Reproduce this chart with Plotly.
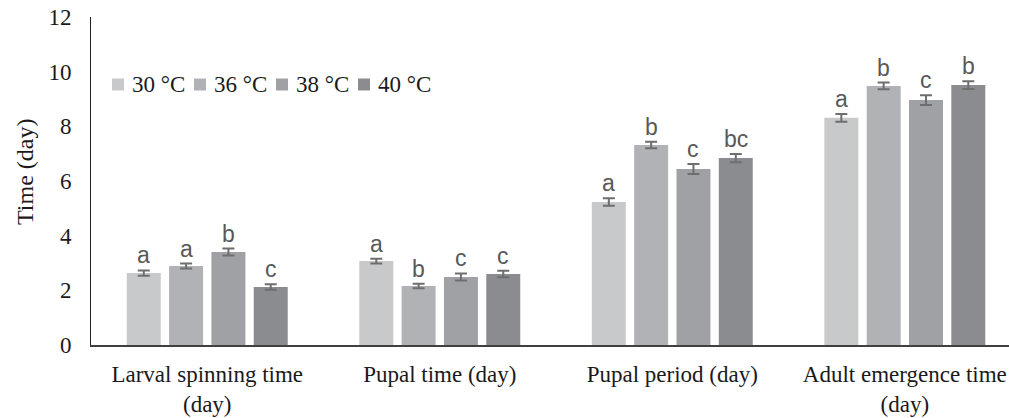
import plotly.graph_objects as go

categories = ["Larval spinning time<br>(day)", "Pupal time (day)", "Pupal period (day)",
              "Adult emergence time<br>(day)"]
series_names = ["30 °C", "36 °C", "38 °C", "40 °C"]
values = [
    [2.63, 3.07, 5.23, 8.31],
    [2.89, 2.16, 7.32, 9.48],
    [3.40, 2.49, 6.44, 8.96],
    [2.12, 2.60, 6.84, 9.51],
]
errors = [
    [0.10, 0.09, 0.14, 0.14],
    [0.09, 0.08, 0.12, 0.12],
    [0.13, 0.13, 0.18, 0.18],
    [0.10, 0.12, 0.15, 0.14],
]
letters = [
    ["a", "a", "a", "a"],
    ["a", "b", "b", "b"],
    ["b", "c", "c", "c"],
    ["c", "c", "bc", "b"],
]
colors = ["#c8c9cb", "#b1b2b5", "#a0a1a5", "#8b8c90"]
y_ticks = [0, 2, 4, 6, 8, 10, 12]

W, H = 1009, 418
ML, MR, MT, MB = 91, 0, 17, 73
PW, PH = W - ML - MR, H - MT - MB


def px_x(px):
    return (px - ML) / PW


def px_y(py):
    return (H - MB - py) / PH


bargap = 0.272
n = len(series_names)
slot = (1 - bargap) / n

fig = go.Figure()
for i, name in enumerate(series_names):
    fig.add_trace(go.Bar(
        name=name, x=categories, y=values[i],
        marker=dict(color=colors[i], line=dict(width=0)),
        error_y=dict(type="data", array=errors[i], color="#6e6e6e", thickness=2, width=6),
        showlegend=False,
    ))

annotations = []
for i in range(n):
    for j in range(len(categories)):
        annotations.append(dict(
            x=j + (i - (n - 1) / 2) * slot, y=values[i][j] + errors[i][j],
            xref="x", yref="y", text=letters[i][j], showarrow=False,
            yanchor="bottom", yshift=0,
            font=dict(family="Liberation Sans, Arial", size=23, color="#595959"),
        ))
annotations.append(dict(
    text="Time (day)", textangle=-90, x=px_x(25), y=px_y(172), xref="paper", yref="paper",
    showarrow=False, xanchor="center", yanchor="middle",
    font=dict(family="Liberation Serif, Times New Roman", size=24, color="#1a1a1a"),
))

# manual legend (swatch + label)
shapes = []
leg_left = 112
leg_pitch = 82
leg_cy = 84.5
sw = 12
for i, name in enumerate(series_names):
    x0 = leg_left + i * leg_pitch
    shapes.append(dict(
        type="rect", xref="paper", yref="paper",
        x0=px_x(x0), x1=px_x(x0 + sw), y0=px_y(leg_cy + sw / 2), y1=px_y(leg_cy - sw / 2),
        fillcolor=colors[i], line=dict(width=0), layer="above",
    ))
    annotations.append(dict(
        text=name, x=px_x(x0 + sw + 6), y=px_y(leg_cy), xref="paper", yref="paper",
        xanchor="left", yanchor="middle", showarrow=False,
        font=dict(family="Liberation Serif, Times New Roman", size=23, color="#1a1a1a"),
    ))

fig.update_layout(
    width=W, height=H,
    margin=dict(l=ML, r=MR, t=MT, b=MB),
    barmode="group", bargap=bargap, bargroupgap=0.197,
    plot_bgcolor="white", paper_bgcolor="white",
    font=dict(family="Liberation Serif, Times New Roman", size=23, color="#1a1a1a"),
    showlegend=False,
    annotations=annotations,
    shapes=shapes,
)
fig.update_xaxes(
    range=[-0.5, 3.448], showline=True, linecolor="#404040", linewidth=2,
    ticks="", tickfont=dict(size=23, color="#1a1a1a"), showgrid=False, zeroline=False,
    ticklabelstandoff=7,
)
fig.update_yaxes(
    range=[0, 12], tickvals=y_ticks, showline=True, linecolor="#222222", linewidth=1,
    ticks="", showgrid=False, zeroline=False, tickfont=dict(size=23, color="#1a1a1a"),
    ticklabelstandoff=14,
)
fig.write_html("out.html")
